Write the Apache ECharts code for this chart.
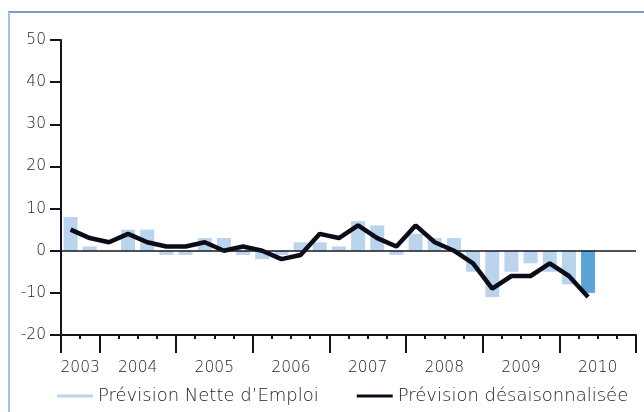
<!DOCTYPE html>
<html>
<head>
<meta charset="utf-8">
<script src="https://cdn.jsdelivr.net/npm/echarts@6/dist/echarts.min.js"></script>
<style>
  html, body { margin: 0; padding: 0; background: #fff; }
  #chart { width: 644px; height: 412px; }
</style>
</head>
<body>
<div id="chart"></div>
<script>
// quarters from T3 2003 to T4 2010
const quarters = [
  "T3 2003", "T4 2003",
  "T1 2004", "T2 2004", "T3 2004", "T4 2004",
  "T1 2005", "T2 2005", "T3 2005", "T4 2005",
  "T1 2006", "T2 2006", "T3 2006", "T4 2006",
  "T1 2007", "T2 2007", "T3 2007", "T4 2007",
  "T1 2008", "T2 2008", "T3 2008", "T4 2008",
  "T1 2009", "T2 2009", "T3 2009", "T4 2009",
  "T1 2010", "T2 2010", "T3 2010", "T4 2010"
];
const netForecast = [8, 1, 0, 5, 5, -1, -1, 3, 3, -1, -2, -1, 2, 2, 1, 7, 6, -1, 4, 3, 3, -5, -11, -5, -3, -5, -8, -10, null, null];
const seasonalForecast = [5, 3, 2, 4, 2, 1, 1, 2, 0, 1, 0, -2, -1, 4, 3, 6, 3, 1, 6, 2, 0, -3, -9, -6, -6, -3, -6, -11, null, null];
const years = ["2003", "2004", "2005", "2006", "2007", "2008", "2009", "2010"];
const yTicks = { min: -20, max: 50, interval: 10 };

const barColor = "#b9d4ec";
const lastBarColor = "#5aa3d7";
const lineColor = "#0c0c18";
const axisColor = "#141420";
const textColor = "#1c1c1c";
const font = "DejaVu Sans";
const weight = 200;

// boundaries between quarters (31 points), used for ticks and year labels
const boundaries = [];
for (let i = 0; i <= quarters.length; i++) boundaries.push("");
years.forEach((y, i) => { boundaries[i === 0 ? 1 : 4 * i] = y; });
const isYearEdge = idx => idx === 0 || (idx - 2) % 4 === 0;

const lastIdx = netForecast.reduce((acc, v, i) => (v !== null ? i : acc), 0);
const barData = netForecast.map((v, i) =>
  i === lastIdx ? { value: v, itemStyle: { color: lastBarColor } } : v
);

const chart = echarts.init(document.getElementById("chart"));
chart.setOption({
  animation: false,
  textStyle: { fontFamily: font, fontWeight: weight },
  grid: { left: 61, right: 8, top: 40, bottom: 77 },
  graphic: [
    { type: "line", shape: { x1: 8, y1: 12, x2: 644, y2: 12 }, style: { stroke: "#7b9ec9", lineWidth: 2 } },
    { type: "line", shape: { x1: 9, y1: 12, x2: 9, y2: 412 }, style: { stroke: "#a6c2e1", lineWidth: 2 } }
  ],
  legend: {
    left: 52,
    top: 382,
    icon: "rect",
    itemWidth: 36,
    itemHeight: 3,
    itemGap: 38,
    textStyle: { fontSize: 18, color: textColor, fontFamily: font, fontWeight: weight },
    data: [
      { name: "Prévision Nette d’Emploi", itemStyle: { color: barColor } },
      { name: "Prévision désaisonnalisée", itemStyle: { color: lineColor } }
    ]
  },
  xAxis: [
    {
      type: "category",
      data: quarters,
      position: "bottom",
      axisLine: { onZero: false, lineStyle: { color: axisColor, width: 2 } },
      axisTick: { show: false },
      axisLabel: { show: false }
    },
    {
      type: "category",
      data: boundaries,
      boundaryGap: false,
      position: "bottom",
      axisLine: { show: false, onZero: false },
      axisTick: { show: true, interval: 0, length: 4, lineStyle: { color: axisColor, width: 2 } },
      axisLabel: { show: false }
    },
    {
      type: "category",
      data: boundaries,
      boundaryGap: false,
      position: "bottom",
      axisLine: { show: false, onZero: false },
      axisTick: {
        show: true,
        length: 18,
        interval: idx => isYearEdge(idx),
        lineStyle: { color: axisColor, width: 2 }
      },
      axisLabel: {
        interval: 0,
        margin: 25,
        fontSize: 15.5,
        color: textColor,
        fontFamily: font,
        fontWeight: weight
      }
    }
  ],
  yAxis: {
    type: "value",
    min: yTicks.min,
    max: yTicks.max,
    interval: yTicks.interval,
    axisLine: { show: true, onZero: false, lineStyle: { color: axisColor, width: 2 } },
    axisTick: { show: true, length: 11, lineStyle: { color: axisColor, width: 2 } },
    axisLabel: { margin: 15, fontSize: 15.5, color: textColor, fontFamily: font, fontWeight: weight },
    splitLine: { show: false }
  },
  series: [
    {
      name: "Prévision Nette d’Emploi",
      type: "bar",
      xAxisIndex: 0,
      data: barData,
      barCategoryGap: "27%",
      itemStyle: { color: barColor },
      markLine: {
        silent: true,
        symbol: "none",
        label: { show: false },
        lineStyle: { color: axisColor, width: 1.5, type: "solid" },
        data: [{ yAxis: 0 }]
      }
    },
    {
      name: "Prévision désaisonnalisée",
      type: "line",
      xAxisIndex: 0,
      data: seasonalForecast,
      showSymbol: false,
      symbol: "none",
      lineStyle: { color: lineColor, width: 4.5 },
      itemStyle: { color: lineColor },
      z: 3
    }
  ]
});
</script>
</body>
</html>
